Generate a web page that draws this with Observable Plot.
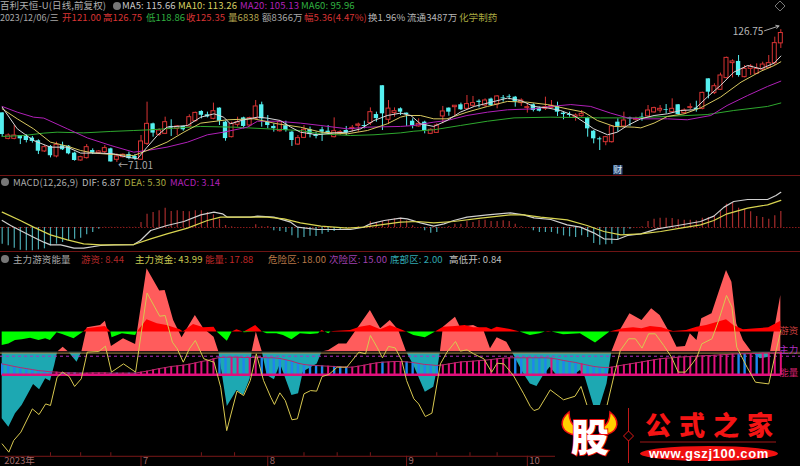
<!DOCTYPE html>
<html lang="zh"><head><meta charset="utf-8">
<script src="https://cdn.jsdelivr.net/npm/d3@7"></script>
<script src="https://cdn.jsdelivr.net/npm/@observablehq/plot@0.6"></script>
<style>
html,body{margin:0;padding:0;background:#000;width:800px;height:466px;overflow:hidden}
#c{position:absolute;left:0;top:0;width:800px;height:466px;background:#000;overflow:hidden;font-family:"Noto Sans CJK SC","Noto Sans",sans-serif}
.t{position:absolute;font-size:9.5px;line-height:11px;white-space:nowrap;letter-spacing:.1px}
.h{position:absolute;left:0;width:800px;height:1.5px;background:#6e1414}
.dot{position:absolute;width:8px;height:8px;border-radius:50%;background:#777}
svg{position:absolute;left:0}
</style></head><body><div id="c"></div>
<script>
const opens=[91.8,80.9,80.9,82.3,81.9,81.2,80.1,75.6,77.7,73.5,78,77.8,74.9,71.8,72.8,76,74.9,75.3,76.7,72.1,73.2,74.3,73.5,72.1,78.8,87.2,82.6,83,86.1,85.1,86.1,86.1,88.3,92.4,91,89.3,93.8,87.9,81.6,86.8,89.7,86.5,89.3,95.2,87.9,86.1,84.1,86.4,83.7,78.5,81.3,84.8,82.7,84.7,84.1,81.6,83,84.4,85,86.4,86.5,87.5,91.1,103.2,88.9,91.7,93.5,91.7,88.3,86.1,87.9,83,83.4,90.3,93.8,94.2,95.2,93.5,94.8,96.7,94.9,97.6,95.3,98.1,98.7,98.4,95.9,93.9,95.2,93.8,93.5,93.9,94.5,91.7,91.1,90,90.4,89.7,84.1,80.9,79.5,79.5,87.9,86.1,89.7,88.9,90,90.3,92,92.8,93.1,92.1,95.2,91.7,93.9,93.8,93.5,106.1,100.1,101.5,106.4,112.7,113.4,106.8,110.3,108.2,110,110.7,112.7,121];
const closes=[82.7,82.3,82.3,80.9,80.2,79.8,75.7,77.4,73.8,78.4,76.3,74.6,71.8,73.2,77.4,74.9,75.6,77,71.2,73.5,74.2,72.6,72.6,79.8,87.2,83.3,84.4,87.9,85.5,86.1,84.7,90,91.8,90.8,90.1,92.5,88.3,81,87.2,87.9,86.1,89.6,94.5,89.3,86.5,85.2,87.9,84.4,80.2,81.2,84.7,82.7,81.9,83.7,83.3,84.1,83.7,83.3,85.5,86.9,86.1,92.1,89.4,91.4,93.6,92.5,92.1,91.1,86.5,87.2,84.4,84.7,86.5,92.4,92.1,94.8,93.1,95.5,95.9,96.2,97,94.9,98.7,97.7,98.4,96.4,97,94.2,92.8,92.5,94.2,94.8,92.1,91.1,90.7,90.7,91.4,85.1,80.9,80.5,81.6,86.1,86.1,88.6,89.2,89.3,89.6,92.8,93.8,93.5,92.8,93.5,91.1,92.8,94.2,93.1,100.2,100.5,103,107.5,114.9,113.4,107.5,110.3,111.3,110.3,112.1,112.7,121.1,125.35];
const highs=[91.8,83,86.5,82.3,82.7,81.9,80.5,78.1,78.1,79.5,79.5,78.1,75.3,73.6,78.5,76.7,76,78.1,77,74.6,74.6,75.3,74.3,82.3,96.3,87.5,85.1,90,88.9,86.5,86.2,91,92.1,92.7,92.1,95.9,93.9,88.3,87.9,90,90,90,97,96.3,90.7,87.2,88.3,88.3,84.1,82.3,86.5,85.8,83.7,85.8,86.5,89.7,84.4,86.1,86.5,87.5,88.3,93.9,92.1,103.2,97,93.9,93.9,91.7,89.3,89.3,88.3,85.1,87.2,94.5,93.9,94.8,95.9,99.1,98.7,97.3,97.7,98,99.1,99.1,99.4,98.7,97.7,95.6,95.6,94.2,98.4,97,96.3,92.1,92.1,91.4,92.8,90,84.4,81.6,81.9,86.5,89.3,92.1,90,90,91.7,94.9,94.2,94.9,95.3,97.7,95.3,93.5,95.6,96.7,100.5,106.1,104,108.5,115.2,114.1,115.9,111.7,112.1,112.4,113.1,115.9,123.6,126.75];
const lows=[81.6,80.5,80.5,78.5,79.2,79.1,74.3,75.2,72.9,72.9,76,74.2,71.5,71.5,72.4,74.3,74.3,74.6,71.1,71.01,72.9,72.1,71.8,72.1,78.1,81.6,81.9,82.7,81.9,82.3,84.1,85.8,88,89.3,89.7,88.9,86.5,79.9,81.3,85.8,85.1,85.8,88.9,85.8,85.1,83.7,83.7,83.7,77.7,78.1,81,81.3,80.9,79.8,82.6,81.3,82.3,82.3,83.7,83.7,85.1,86.5,87.9,84.4,86.9,90,90.7,86.1,85.1,85.8,83,82.7,83.3,87.2,90.4,90.7,92.8,93.1,94.2,93.9,94.2,94.5,93.5,96.3,97.3,94.2,94.5,91.7,92.2,92.2,92.8,93.5,90.3,88.9,90,88.3,90,81.6,78.8,76,78,79.1,83.7,85.5,86.1,88.3,88.3,90,91.7,91.7,91.4,91.7,90.7,91.1,93.1,92.1,93.1,97.7,99.5,101.2,106.1,106.5,106.8,106.5,107.5,107.9,109.6,110.3,111.7,118.86];

const ma5Bars=[0,2.5,5.2,8,10.8,13,16.3,18.5,20.7,22.4,24,25.7,27.3,30.7,32.9,35.1,36.7,37.8,40,42.3,43.9,46.1,47.8,49.4,52.2,55,57.2,59.4,61.6,63.8,66,67.7,69.3,71.5,73.7,75.9,78.2,81.5,83.7,85.9,88.1,90.3,92.5,94.7,96.4,98,100.3,101.9,103.6,105.8,108,110.2,112.4,114.6,116.8,119,121.2,123.5,125.7,127.9,129];
const ma5=[94.2,85.1,80.2,77.4,77.4,74.9,74.9,74.6,73.2,72.5,77.4,82.3,85.8,86.5,90,91.4,90,87.2,88.9,90,89.6,88.6,85.8,83.7,82.6,83.4,83.7,85.1,88.6,90.7,91.7,90.7,87.2,86.1,88.6,92.1,94.5,96.6,98,97,94.5,93.9,92.8,90.7,87.9,85.1,82.6,83.7,86.5,89.3,90.7,91.4,92.8,93.1,98.4,103.3,108.9,111.7,110.3,112.7,115.66];
const ma10Bars=[0,2.5,5.2,8,10.8,13,15.2,18.5,21.8,24,27.3,30.1,32.9,37.3,41.7,45.6,49.4,52.8,57.2,60.5,63.8,66,67.1,69.3,71.5,73.7,77,80.4,83.7,87,90.3,93.6,96.4,98.6,101.4,104.7,105.8,108,110.2,113,115.7,119,122.4,125.7,127.9,129];
const ma10=[93.5,89.3,85.1,79.5,77.8,76,74.9,74.3,73.9,76,79.5,83.7,87.5,88.9,89.3,87.2,85.8,83.7,83,84.4,87.2,90,90.7,90.7,89.3,89.3,92.1,94.5,96.6,96.3,95.3,93.5,92.1,88.6,86.1,85.8,85.5,87.5,90.3,91.4,93.9,98.4,104.7,109.3,111.7,113.26];
const ma20Bars=[0,2.5,5.2,6.9,10.8,14.1,18,21.8,24,27.3,30.7,34,36.7,40.6,42.3,45.6,49.4,52.8,57.2,60.5,66,68.2,71.5,73.7,77,80.4,83.7,88.1,90.9,94.2,97.5,100.8,103.6,106.3,110.2,113.5,117.4,120.1,123.5,126.8,129];
const ma20=[94.5,92.1,90,89.6,85.1,81.3,78.1,75.3,76,77.4,79.5,82.6,83.7,85.8,88.3,88.3,87.5,86.5,85.1,85.8,86.1,86.5,87.9,88.6,90.7,92.1,93.1,93.5,94.5,95.3,94.5,91.7,89.7,89.3,89.3,88.9,90.7,94.9,99.1,102.9,105.13];
const ma60Bars=[0,3.6,6.9,9.1,13.5,18,21.8,24.6,32.9,38.4,43.9,49.4,52.8,57.7,61.6,66,68.2,71.5,75.9,80.4,84.8,90.9,99.1,104.7,110.2,116.8,121.2,126.8,129];
const ma60=[81.9,82.3,83.3,83.7,83.4,84,84.4,84.7,86.1,85.8,85.1,84.4,83,82.3,82.6,83.4,84.1,84.7,86.5,88.3,89.7,90,89.7,89.7,90.3,91.1,92.8,94.5,95.96];

const macd=[-3.25,-3.58,-4.03,-4.42,-4.55,-4.55,-4.36,-4.16,-3.58,-3.25,-2.93,-2.6,-2.28,-2.08,-1.43,-.98,-.33,.05,.05,.05,.05,.05,.05,.98,2.6,2.93,3.25,3.77,3.12,3.25,3.12,3.06,3.25,3.25,2.93,2.47,1.63,.39,.13,0,0,0,.52,.13,.2,-.65,-.78,-.98,-1.63,-2.08,-1.95,-1.69,-1.76,-1.3,-.98,-.78,-.39,-.2,0,.13,.2,1.11,.98,1.17,1.43,1.69,1.82,1.3,.33,0,-.65,-1.11,-.98,-.07,.2,.65,.65,1.17,.98,1.43,1.43,1.17,1.17,1.3,1.17,.65,.13,0,-.65,-.98,-.98,-.98,-1.3,-1.63,-1.82,-1.95,-1.63,-1.95,-3.12,-3.45,-3.38,-3.25,-2.47,-1.43,-.33,0,.13,1.17,1.63,1.82,1.82,1.76,1.5,1.43,1.43,1.3,1.82,1.95,2.28,3.12,4.55,4.68,3.77,3.58,3.06,2.15,1.95,1.63,2.28,3.14];
const difBars=[0,1.4,3,5.2,6.9,8,9.7,11.9,13.5,16.3,18.5,21.8,22.9,24.6,27.3,30.1,32.9,35.1,36.5,37.3,41.2,42.3,45,47.8,48.9,52.2,55,57.7,59.9,61,63.3,66,67.1,69.3,71.5,73.2,74.8,77,80.4,84.2,86.4,88.1,90.9,93.6,95.8,98,99.7,101.9,103.6,105.8,108.5,111.9,115.7,117.9,119.6,121.2,123.5,126.8,128.2,129];
const dif=[1.37,.39,-.59,-1.89,-2.86,-3.38,-3.38,-4.03,-4.03,-3.51,-3.38,-3.32,-2.54,-.59,.39,1.17,2.47,2.99,2.67,2.02,2.02,2.21,2.02,1.04,.07,-.39,-.39,-.39,.07,.72,1.37,1.82,1.69,.91,.26,.72,1.37,2.02,2.47,2.86,2.47,1.89,1.56,.52,.07,-1.04,-2.21,-2.34,-1.56,-1.24,-.26,.39,1.17,2.21,3.97,5.07,5.46,5.46,6.24,6.87];
const deaBars=[0,3,5.2,8,10.8,13.5,16.3,21.8,24.6,27.3,30.7,34,36.2,39.5,43.9,46.7,49.4,52.8,57.2,59.9,66,68.8,71.5,74.8,79.3,84.2,86.4,89.2,93.6,96.9,99.7,102.5,105.8,109.1,112.4,115.7,117.9,120.1,123.5,126.8,129];
const dea=[2.99,1.37,.07,-1.43,-2.41,-3.19,-3.38,-3.32,-2.21,-1.24,-.13,1.37,2.02,2.02,2.02,1.69,.91,.26,-.13,.07,1.04,1.17,.91,1.17,1.82,2.47,2.47,2.02,1.5,.39,-.78,-1.43,-1.24,-.78,-.13,.52,1.37,2.67,3.77,4.42,5.3];

const fundBars=[0,1.1,2.2,3.3,5.2,6.2,7.2,8,8.7,9.2,10.1,11,12.4,13.2,14.1,16.3,17.1,18.1,20.1,22.1,24,26.1,27,28.4,29.8,32,33.4,35.1,35.9,37.3,38.9,40,41.1,41.4,42.1,43.1,43.9,45.1,46.1,48,49.1,49.9,52.2,53,54.1,55.8,57.1,61,62.7,64.3,65.7,67,68.2,70.1,71.5,72.3,72.6,73.1,75.1,75.9,78.1,79.8,80.9,82,83.6,84.5,86.4,87.5,88.6,89.7,90.8,91.9,94.7,95.8,96.6,98,99.1,100.2,101,102.4,104,106,107.6,109,110.7,111.8,113.2,114,115.1,115.9,117.6,118.7,120,120.9,121.7,122.8,124.2,125.6,127,127.3,129];
const fund=[-29.1,-35,-25.6,-19.7,-4.9,-8.7,-.9,-2.6,8.5,18,21.4,18,10.8,18,35,36.7,39.7,21.9,27.3,23.3,76.6,60.9,61.3,40.2,28,43.7,34.3,28.4,18,-20.4,-9.2,-12.7,-.9,18,32,18,1.4,-1.6,9.6,-12.7,-11.5,3.8,9.6,18,19,23.7,23.7,47.2,34.3,40.2,33.1,18,8.5,-10.3,-6.8,9.6,18,35.5,42.5,35.5,36.7,33.1,20.2,28,24.9,18,2.6,-4.5,-6.3,1.4,7.3,1.4,1.4,4.9,.2,-19.7,-19.7,-4.5,18,33.1,44.9,40.2,48.4,43.7,30.8,21.4,21.9,30.8,26.1,41.4,44.9,59,75.4,67.2,37.8,26.1,18,13.2,14.3,18,57.8];
const hotBars=[0,1.1,2.2,3.3,4.7,6.1,7.2,8,9.1,10,11.9,13.5,14.1,17.1,18,18.2,19.9,22.1,22.4,24,25.7,27.3,29.5,30,31.7,33.4,35.1,35.6,37.3,38.1,38.9,39.9,40.1,42,43.1,43.9,45.5,46.6,48,49.4,51.1,52.4,52.7,53,53.5,54.1,54.5,54.9,57.7,59.3,61,62.7,64.3,65.7,67,68.2,70.1,71.8,73.1,75.1,76.7,78.1,80.3,81.1,82,84.2,85.8,87,87.5,89.1,90,90.5,91.1,93,95.8,98.3,100.7,102.9,104.6,106,107.4,109.3,111.2,113.4,115.1,116.7,120,121.2,122.8,125,127,129];
const hot=[22.6,23.7,26.1,26.6,27.7,26.1,27.3,26.1,31.5,30.3,27.3,32,34.3,36,32,28,30.8,29.6,32,40.7,37.8,36.7,33.6,32,37.4,35,35.5,32,25.6,32,33.6,32,31.5,36.7,32,30.8,30.8,29.6,26.6,30.8,30.3,30.8,32,33.1,32,30.8,32,32.4,33.1,35.5,36.7,33.6,36.4,34.3,32,29.6,28,32,35.5,36,36.7,35,35,33.6,35.5,33.8,32,30.3,29.6,30.8,32,32.4,32,30.1,30.8,24.4,32,34.3,35,34.3,36,35,32.4,33.1,35.5,36.7,40.7,36.7,33.6,34.3,35,39.7];
const capitalBars=[0,1.1,1.9,3.1,5,6.1,7.2,8,9.1,10,11.1,12,13.1,14.1,16,17.1,18.1,20.1,22.1,24,26.1,27,28.2,29,30,31,32,33.4,35.1,36.2,37.2,38.9,40,41.1,42.1,43.3,44.5,45.1,46,46.9,48,48.9,50,51.1,52.1,53,54.1,55.5,57.1,59.1,60.2,61,62.1,63,64,65.1,66.2,67,68.2,69,70.1,71.2,72.6,73.7,75.1,75.9,77,78.1,79.8,81.1,82,83.1,84.7,86.4,87.5,88.1,88.9,90.8,93,94.9,95.9,96.9,100.2,101.3,102.4,103.8,104.9,106,107.1,108.2,109.6,110.9,112,113.2,114.3,115.1,115.9,117.6,118.7,120,120.9,121.7,123.4,124.8,127,128.1,129];
const capital=[-46.8,-52.6,-44.4,-38.5,-22.1,-26.1,-18.6,-19.7,.2,3.8,.7,-6.3,-.9,17.9,18.3,22.1,3.8,9.6,3.8,59.5,43.2,43.7,24.9,20.2,10.8,20.2,26.1,13.2,10.8,-6.8,-37.4,-9.6,-12.7,-2.1,16.7,-2.1,-13.9,-19,-10.8,-16.2,-29.8,-29.1,-11.5,-9.2,-9.6,.7,2.1,7.3,7.3,17.9,16.7,29.6,21.4,13.9,21.9,20.9,12,-2.1,-15,-18.6,-27.5,-25.1,9.6,17.9,25.4,18.6,19.5,16.7,13.2,3.8,10.1,9.6,1.4,-11.5,-20.4,-23.3,-22.1,-8.7,-15.7,-13.2,-6.3,-19.7,-19.7,.2,19,27.3,27.3,20.7,30.8,30.8,22.6,14.3,3.8,3.8,9.6,14.3,23.7,27.3,40.2,57.8,49.6,21.4,7.3,-3.3,-4.5,16.7,33.1];
const energy=[9.6,8.7,7.8,7,6.3,5.6,4.9,4.5,4,3.8,3.5,3.3,3.3,3.1,3.1,3.3,3.3,3.3,3.1,3.1,3.1,3.1,3.1,3.8,4.5,5.4,6.3,7,7.8,8.2,8.7,9.4,10.3,11.3,12,13.2,14.1,14.3,14.3,14.3,14.1,14.1,14.1,14.1,13.9,13.9,13.4,12.5,11.5,10.1,9.2,8.7,8.5,8.2,8,7.8,7.5,7.3,7.3,8,8.7,9.6,10.3,10.8,11,11.3,11.3,11,10.6,9.9,9.2,8.9,8.5,8.9,9.6,10.3,11,11.3,11.5,12,12.2,12.7,13.2,13.6,13.9,13.9,13.9,13.9,13.9,13.9,13.9,13.6,12.9,12,11.3,10.6,9.6,8.7,7.8,7.3,7,7.3,8.2,8.9,9.6,10.3,11,11.8,12.5,13.2,13.6,13.9,14.3,14.6,14.8,15,15.3,15.5,15.7,16,16.2,16.5,16.7,16.7,16.9,16.9,17.2,17.2,17.2,17.88];
const blueBars=[0,1,2,3,4,5,6,7,8,10,11,12,13,18,19,21,22,36,37,40,43,44,45,46,47,48,49,50,51,52,53,55,56,57,63,67,68,69,70,71,72,85,86,88,89,90,92,93,94,95,97,98,99,100,122,123,125];
const levels={danger:18,second:15,bottom:2,tan:17.2};
const monthTicks=[{x:0,t:"2023年"},{x:23,t:"7"},{x:44,t:"8"},{x:67,t:"9"},{x:87,t:"10"}];
const minorTicks=[8,13,18,33,38.5,50,55.5,61,72,77.5,82];

const zip=(xs,vs)=>xs.map((x,i)=>({x,v:vs[i]}));
const bars=opens.map((o,i)=>({i,o,c:closes[i],h:highs[i],l:lows[i],up:closes[i]>=o}));
const xDom=[-0.28,132.26];
const root=document.getElementById("c");
function panel(top,height,domain,marks){
  const s=Plot.plot({width:800,height,margin:0,x:{domain:xDom,axis:null},y:{domain,range:[height,0],axis:null},
    style:{background:"transparent",fontFamily:'"Noto Sans CJK SC",sans-serif'},marks});
  s.style.top=top+"px";root.appendChild(s);
}
const RED="#d83434",CY="#55f0f0";
const ln=(xs,vs,stroke,w=1)=>Plot.line(zip(xs,vs),{x:"x",y:"v",stroke,strokeWidth:w});
panel(0,175,[65.5,139],[
  Plot.ruleX(bars.filter(d=>d.up),{x:"i",y1:"l",y2:"h",stroke:RED,strokeWidth:1}),
  Plot.ruleX(bars.filter(d=>!d.up),{x:"i",y1:"l",y2:"h",stroke:CY,strokeWidth:1}),
  Plot.rect(bars.filter(d=>d.up),{x1:d=>d.i-.33,x2:d=>d.i+.33,y1:"o",y2:"c",fill:"#000",stroke:RED,strokeWidth:1,inset:0}),
  Plot.rect(bars.filter(d=>!d.up),{x1:d=>d.i-.36,x2:d=>d.i+.36,y1:"o",y2:"c",fill:CY,inset:0}),
  ln(ma60Bars,ma60,"#2ea82e"),
  ln(ma20Bars,ma20,"#b020b8"),
  ln(ma10Bars,ma10,"#d8c860"),
  ln(ma5Bars,ma5,"#d8d8d8"),
  Plot.text([{x:126.1,v:126.3}],{x:"x",y:"v",text:()=>"126.75",textAnchor:"end",fill:"#b8b8b8",fontSize:10,dy:1}),
  Plot.arrow([{a:126.3,b:128.7,u:126.3,w:128.3}],{x1:"a",x2:"b",y1:"u",y2:"w",stroke:"#aaa",strokeWidth:1,headLength:5,bend:0}),
  Plot.text([{x:19.2,v:71.01}],{x:"x",y:"v",text:()=>"←71.01",textAnchor:"start",fill:"#a8a8a8",fontSize:10,dy:3}),
]);
const mb=macd.map((v,i)=>({i,v}));
panel(175,76,[-4.68,10.14],[
  Plot.ruleY([0],{stroke:"#8a1a1a",strokeDasharray:"1.5,1.5"}),
  Plot.ruleX(mb.filter(d=>d.v>0),{x:"i",y1:0,y2:"v",stroke:"#a52c2c",strokeWidth:1.2}),
  Plot.ruleX(mb.filter(d=>d.v<0),{x:"i",y1:0,y2:"v",stroke:"#4aa8b0",strokeWidth:1.2}),
  ln(difBars,dif,"#d0d0d0",1.2),
  ln(deaBars,dea,"#d8d450",1.2),
]);
const fd=zip(fundBars,fund),hd=zip(hotBars,hot);
const ed=energy.map((v,i)=>({i,v,blue:blueBars.includes(i)}));
const AX=-55.5;
panel(250,216,[-62.7,89.5],[
  Plot.areaY(fd,{x:"x",y1:levels.danger,y2:d=>Math.max(d.v,levels.danger),fill:"#ff5c5c"}),
  Plot.areaY(fd,{x:"x",y1:levels.danger,y2:d=>Math.min(d.v,levels.danger),fill:"#1da8b2"}),
  Plot.areaY(hd,{x:"x",y1:32,y2:d=>Math.max(d.v,32),fill:"#ff0000"}),
  Plot.areaY(hd,{x:"x",y1:32,y2:d=>Math.min(d.v,32),fill:"#00ff00"}),
  Plot.ruleY([levels.danger],{stroke:"#111",strokeWidth:1.5}),
  Plot.ruleY([levels.tan],{stroke:"#a88a48",strokeWidth:1}),
  Plot.ruleY([levels.second],{stroke:"#b030c0",strokeWidth:1,strokeDasharray:"3,3"}),
  Plot.ruleX(ed.filter(d=>!d.blue),{x:"i",y1:levels.bottom-.4,y2:"v",stroke:"#e0107c",strokeWidth:2}),
  Plot.ruleX(ed.filter(d=>d.blue),{x:"i",y1:levels.bottom-.4,y2:"v",stroke:"#1e86ee",strokeWidth:2.4}),
  Plot.ruleY([levels.bottom],{x1:0,x2:129,stroke:"#e0107c",strokeWidth:2.5}),
  Plot.line(ed,{x:"i",y:"v",stroke:"#b82a6a",strokeWidth:1}),
  ln(capitalBars,capital,"#d8c850",1),
  Plot.ruleY([AX],{stroke:"#7a1818",strokeWidth:1}),
  Plot.ruleX(monthTicks.slice(1),{x:"x",y1:AX,y2:-62.7,stroke:"#7a1818"}),
  Plot.ruleX(minorTicks,{x:d=>d,y1:AX,y2:AX+2.5,stroke:"#7a1818"}),
  Plot.text(monthTicks,{x:"x",y:-58.8,text:"t",textAnchor:"start",dx:2,fill:"#a06a6a",fontSize:9.5}),
  Plot.text([{t:"游资",v:33,c:"#c03c3c"},{t:"主力",v:19.5,c:"#b030c0"},{t:"能量",v:3.3,c:"#d82070"}],
    {x:131.9,y:"v",text:"t",fill:"c",textAnchor:"end",fontSize:9.5}),
]);

const rows=[
 [0,0,"百利天恒-U(日线,前复权)","#b0b0b0"],[122,0,"MA5: 115.66","#c8c8c8"],[178,0,"MA10: 113.26","#d8d060"],[240,0,"MA20: 105.13","#b020b8"],[301,0,"MA60: 95.96","#30b040"],
 [0,12,"2023/12/06/三","#a8a8a8",8.9],[62,12,"开121.00","#d83434"],[103,12,"高126.75","#d83434"],[146,12,"低118.86","#30b040"],[186,12,"收125.35","#d83434"],[228,12,"量6838","#b8a850"],[262,12,"额8366万","#a8a8a8"],[304,12,"幅5.36(4.47%)","#d83434"],[368,12,"换1.96%","#b8b8b8"],[407,12,"流通3487万","#b8b8b8"],[459,12,"化学制药","#a8a840"],
 [13,177,"MACD(12,26,9)","#a8a8a8"],[82,177,"DIF: 6.87","#b8b8b8"],[124,177,"DEA: 5.30","#a8a840"],[170,177,"MACD: 3.14","#b020b8"],
 [13,254,"主力游资能量","#a8a8a8"],[81,254,"游资: 8.44","#b02828"],[135,254,"主力资金: 43.99","#c8c850"],[205,254,"能量: 17.88","#c02828"],[268,254,"危险区: 18.00","#b87848"],[329,254,"次险区: 15.00","#a040b0"],[390,254,"底部区: 2.00","#30a8b0"],[449,254,"高低开: 0.84","#c0c0c0"]
];
for(const [x,y,s,c,fs] of rows){const d=document.createElement("div");d.className="t";d.style.cssText=`left:${x}px;top:${y}px;color:${c}`+(fs?`;font-size:${fs}px;letter-spacing:0`:"");d.textContent=s;root.appendChild(d);}
for(const [x,y] of [[113,2],[1,178],[1,255]]){const d=document.createElement("div");d.className="dot";d.style.cssText=`left:${x}px;top:${y}px`;root.appendChild(d);}
for(const y of [174.5,250.5]){const d=document.createElement("div");d.className="h";d.style.top=y+"px";root.appendChild(d);}

const over=document.createElementNS("http://www.w3.org/2000/svg","svg");
over.setAttribute("width",800);over.setAttribute("height",466);over.style.top="0";over.style.pointerEvents="none";
over.innerHTML=`
<path d="M775 6 l5 -5 l5 5 l-5 5 z" fill="none" stroke="#777"/>
<rect x="613" y="165" width="9.5" height="9.5" fill="#2a4a7a"/>
<text x="617.7" y="173" text-anchor="middle" font-size="9" fill="#d8e4f0" font-family="Noto Sans CJK SC">财</text>
<rect x="555" y="405" width="245" height="61" fill="#000"/>
<path d="M569 412 C559 420 560 430 571 434 L581 437 L576 427 C571 424 569 419 569 412 Z" fill="#ffd000" stroke="#f01010" stroke-width="1.5"/>
<path d="M610 412 C620 420 619 430 608 434 L598 437 L603 427 C608 424 610 419 610 412 Z" fill="#ffd000" stroke="#f01010" stroke-width="1.5"/>
<text x="590" y="451" text-anchor="middle" font-size="38" font-weight="900" fill="#fff" stroke="#f01010" stroke-width="1.6" paint-order="stroke" font-family="Noto Sans CJK SC">股</text>
<line x1="628.5" y1="408" x2="628.5" y2="463" stroke="#c01818"/>
<path d="M628.5 431 l5 5 l-5 5 l-5 -5 z" fill="#000" stroke="#e01818"/>
<text x="645" y="435" font-size="26" font-weight="900" fill="#f41414" letter-spacing="8" font-family="Noto Sans CJK SC">公式之家</text>
<line x1="640" y1="442" x2="776" y2="442" stroke="#a01818" stroke-width="1.2"/>
<ellipse cx="709" cy="453.5" rx="69" ry="7.5" fill="#f01010"/>
<text x="709" y="458" text-anchor="middle" font-size="13" font-weight="700" fill="#fff" letter-spacing=".6" font-family="Liberation Sans">www.gszj100.com</text>`;
root.appendChild(over);
</script></body></html>
